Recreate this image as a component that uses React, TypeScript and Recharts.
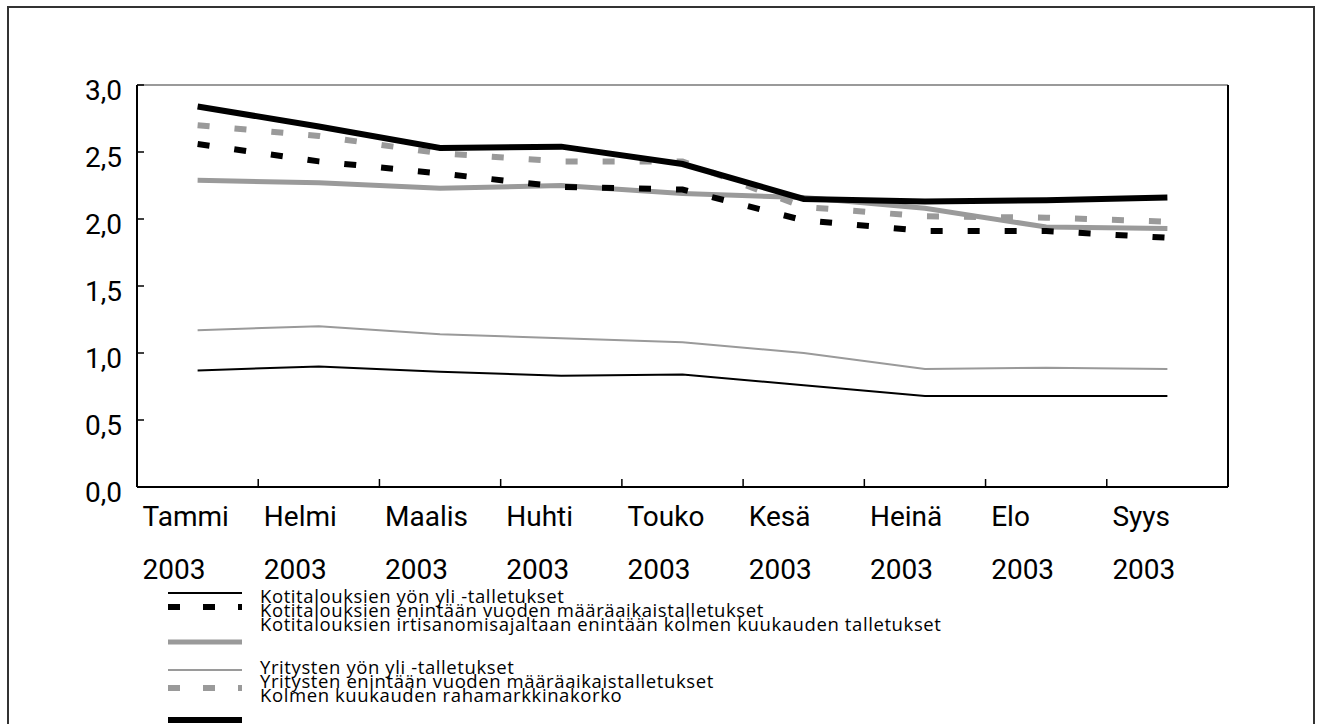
import React from 'react';
import { LineChart, Line, XAxis, YAxis, ReferenceLine } from 'recharts';

const months = ['Tammi', 'Helmi', 'Maalis', 'Huhti', 'Touko', 'Kesä', 'Heinä', 'Elo', 'Syys'];
const yearLabel = '2003';
const yTicks = [0, 0.5, 1, 1.5, 2, 2.5, 3];

const kotiYonYli = [0.87, 0.9, 0.86, 0.83, 0.84, 0.76, 0.68, 0.68, 0.68];
const kotiVuosi = [2.56, 2.43, 2.34, 2.24, 2.22, 1.99, 1.91, 1.91, 1.86];
const kotiIrtisanomis = [2.29, 2.27, 2.23, 2.25, 2.19, 2.16, 2.08, 1.94, 1.93];
const yritYonYli = [1.17, 1.2, 1.14, 1.11, 1.08, 1.0, 0.88, 0.89, 0.88];
const yritVuosi = [2.7, 2.62, 2.49, 2.43, 2.43, 2.09, 2.02, 2.01, 1.98];
const kolmenKk = [2.84, 2.69, 2.53, 2.54, 2.41, 2.15, 2.13, 2.14, 2.16];

const seriesNames = [
  'Kotitalouksien yön yli -talletukset',
  'Kotitalouksien enintään vuoden määräaikaistalletukset',
  'Kotitalouksien irtisanomisajaltaan enintään kolmen kuukauden talletukset',
  'Yritysten yön yli -talletukset',
  'Yritysten enintään vuoden määräaikaistalletukset',
  'Kolmen kuukauden rahamarkkinakorko',
];

const data = months.map((m, i) => ({
  month: m,
  kotiYonYli: kotiYonYli[i],
  kotiVuosi: kotiVuosi[i],
  kotiIrtisanomis: kotiIrtisanomis[i],
  yritYonYli: yritYonYli[i],
  yritVuosi: yritVuosi[i],
  kolmenKk: kolmenKk[i],
}));

const W = 1318;
const H = 724;
const PLOT_LEFT = 137;
const PLOT_RIGHT = 1228;
const PLOT_TOP = 85;
const PLOT_BOTTOM = 487;
const BAND = (PLOT_RIGHT - PLOT_LEFT) / months.length;

const GRAY = '#9a9a9a';
const tickFont = "Roboto, 'Liberation Sans', sans-serif";
const legendFont = "'Open Sans', 'DejaVu Sans', sans-serif";

const fmt = (v: number) => v.toFixed(1).replace('.', ',');

const LeftTick = (props: any) => {
  const { y, payload } = props;
  return (
    <g>
      <line x1={PLOT_LEFT} x2={PLOT_LEFT + 7} y1={y} y2={y} stroke="#000" strokeWidth={1.5} />
      <text x={PLOT_LEFT - 15} y={y + 15} textAnchor="end" fontSize={28} fontFamily={tickFont} fill="#000">
        {fmt(payload.value)}
      </text>
    </g>
  );
};

const RightTick = (props: any) => {
  const { y, payload } = props;
  return (
    <g>
      <line x1={PLOT_RIGHT - 7} x2={PLOT_RIGHT} y1={y} y2={y} stroke="#000" strokeWidth={1.5} />
      <text x={PLOT_RIGHT + 22} y={y + 15} textAnchor="start" fontSize={28} fontFamily={tickFont} fill="#000">
        {fmt(payload.value)}
      </text>
    </g>
  );
};

const MonthTick = (props: any) => {
  const { x, payload } = props;
  const left = x - BAND / 2;
  return (
    <g>
      {payload.index > 0 && (
        <line x1={left} x2={left} y1={PLOT_BOTTOM} y2={PLOT_BOTTOM - 8} stroke="#000" strokeWidth={1.5} />
      )}
      <text x={x - 55} y={526} textAnchor="start" fontSize={28} fontFamily={tickFont} fill="#000">
        {payload.value}
      </text>
      <text x={x - 55} y={579} textAnchor="start" fontSize={28} fontFamily={tickFont} fill="#000">
        {yearLabel}
      </text>
    </g>
  );
};

const legendItems = [
  { name: seriesNames[0], color: '#000', width: 2, dash: undefined, symY: 593, textY: 603 },
  { name: seriesNames[1], color: '#000', width: 6, dash: '12 23', symY: 607, textY: 617 },
  { name: seriesNames[2], color: GRAY, width: 5, dash: undefined, symY: 642, textY: 631 },
  { name: seriesNames[3], color: GRAY, width: 2, dash: undefined, symY: 670, textY: 674 },
  { name: seriesNames[4], color: GRAY, width: 6, dash: '12 23', symY: 688, textY: 688 },
  { name: seriesNames[5], color: '#000', width: 6, dash: undefined, symY: 720, textY: 702 },
];

const ChartLegend = () => (
  <svg width={W} height={H} style={{ position: 'absolute', left: 0, top: 0, pointerEvents: 'none' }}>
    {legendItems.map((it) => (
      <g key={it.name}>
        <line x1={168} x2={242} y1={it.symY} y2={it.symY} stroke={it.color} strokeWidth={it.width} strokeDasharray={it.dash} />
        <text x={260} y={it.textY} fontSize={18.5} letterSpacing={0.6} fontFamily={legendFont} fill="#000">
          {it.name}
        </text>
      </g>
    ))}
  </svg>
);

export default function App() {
  return (
    <div style={{ position: 'absolute', left: 0, top: 0, width: W, height: H, overflow: 'hidden', background: '#fff' }}>
      <div
        style={{
          position: 'absolute',
          left: 7,
          top: 6,
          width: 1304,
          height: 740,
          border: '2px solid #333',
        }}
      />
      <div style={{ position: 'absolute', left: 0, top: 0 }}>
        <LineChart width={W} height={H} data={data} margin={{ top: PLOT_TOP, right: 0, bottom: 0, left: 0 }}>
          <XAxis
            dataKey="month"
            interval={0}
            height={H - PLOT_BOTTOM}
            padding={{ left: BAND / 2, right: BAND / 2 }}
            axisLine={{ stroke: '#000', strokeWidth: 2 }}
            tickLine={false}
            tick={<MonthTick />}
          />
          <YAxis
            yAxisId="left"
            orientation="left"
            width={PLOT_LEFT}
            domain={[0, 3]}
            ticks={yTicks}
            interval={0}
            axisLine={{ stroke: '#000', strokeWidth: 2 }}
            tickLine={false}
            tick={<LeftTick />}
          />
          <YAxis
            yAxisId="right"
            orientation="right"
            width={W - PLOT_RIGHT}
            domain={[0, 3]}
            ticks={yTicks}
            interval={0}
            axisLine={{ stroke: '#000', strokeWidth: 2 }}
            tickLine={false}
            tick={<RightTick />}
          />
          <ReferenceLine yAxisId="left" y={3} stroke={GRAY} strokeWidth={2} />
          <Line yAxisId="left" dataKey="kotiYonYli" stroke="#000" strokeWidth={2} dot={false} isAnimationActive={false} />
          <Line yAxisId="left" dataKey="yritYonYli" stroke={GRAY} strokeWidth={2} dot={false} isAnimationActive={false} />
          <Line yAxisId="left" dataKey="kotiIrtisanomis" stroke={GRAY} strokeWidth={5} dot={false} isAnimationActive={false} />
          <Line yAxisId="left" dataKey="kotiVuosi" stroke="#000" strokeWidth={6} strokeDasharray="12 25" dot={false} isAnimationActive={false} />
          <Line yAxisId="left" dataKey="yritVuosi" stroke={GRAY} strokeWidth={6} strokeDasharray="12 25" dot={false} isAnimationActive={false} />
          <Line yAxisId="left" dataKey="kolmenKk" stroke="#000" strokeWidth={6} dot={false} isAnimationActive={false} />
        </LineChart>
      </div>
      <ChartLegend />
    </div>
  );
}
